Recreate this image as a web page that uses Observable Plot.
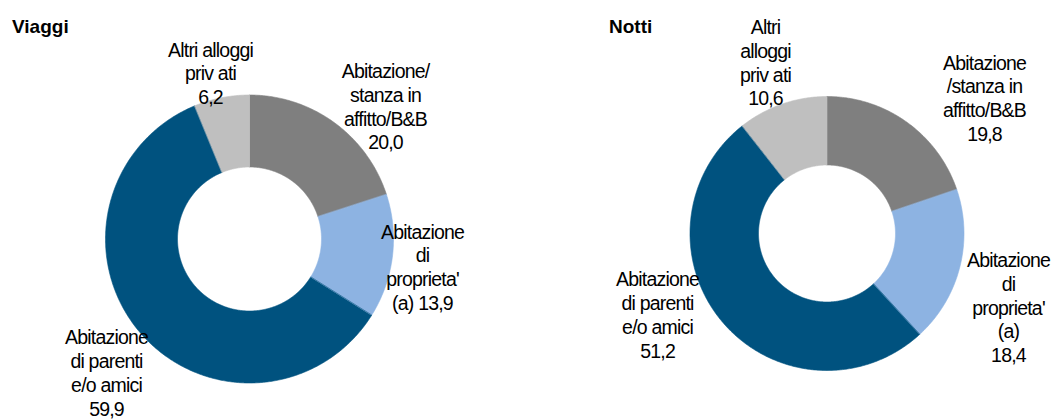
<!DOCTYPE html>
<html>
<head>
<meta charset="utf-8">
<script src="https://cdn.jsdelivr.net/npm/d3@7"></script>
<script src="https://cdn.jsdelivr.net/npm/@observablehq/plot@0.6"></script>
<style>
  html, body { margin: 0; padding: 0; background: #fff; }
  #wrap { position: relative; width: 1053px; height: 420px; display: flex; }
  .title { position: absolute; top: 17px; font: bold 19px "Liberation Sans", Arial, sans-serif; line-height: 19px; color: #000; }
  #wrap svg text { font-family: "Liberation Sans", Arial, sans-serif; letter-spacing: -0.8px; }
</style>
</head>
<body>
<div id="wrap">
  <div class="title" style="left:12px">Viaggi</div>
  <div class="title" style="left:609px">Notti</div>
</div>
<script>
// ---- data ----
const categories = [
  "Abitazione/stanza in affitto/B&B",
  "Abitazione di proprieta' (a)",
  "Abitazione di parenti e/o amici",
  "Altri alloggi privati"
];
const colors = ["#7f7f7f", "#8db3e2", "#00527f", "#bfbfbf"];
const viaggiValues = [20.0, 13.9, 59.9, 6.2];
const nottiValues = [19.8, 18.4, 51.2, 10.6];
const viaggiLabels = [
  "Abitazione/\nstanza in\naffitto/B&B\n",
  "Abitazione\ndi\nproprieta'\n(a) ",
  "Abitazione\ndi parenti\ne/o amici\n",
  "Altri alloggi\npriv ati\n"
];
const nottiLabels = [
  "Abitazione\n/stanza in\naffitto/B&B\n",
  "Abitazione\ndi\nproprieta'\n(a)\n",
  "Abitazione\ndi parenti\ne/o amici\n",
  "Altri\nalloggi\npriv ati\n"
];

const fmt = v => v.toFixed(1).replace(".", ",");
const INNER = 0.5;

function ring(values) {
  const total = d3.sum(values);
  let acc = 0;
  const pts = [], mids = [];
  values.forEach((v, i) => {
    const a0 = acc / total * 2 * Math.PI; acc += v;
    const a1 = acc / total * 2 * Math.PI;
    const n = Math.max(2, Math.ceil((a1 - a0) / (Math.PI / 360)));
    for (let k = 0; k <= n; k++) { const a = a0 + (a1 - a0) * k / n; pts.push({cat: categories[i], x: Math.sin(a), y: Math.cos(a)}); }
    for (let k = n; k >= 0; k--) { const a = a0 + (a1 - a0) * k / n; pts.push({cat: categories[i], x: INNER * Math.sin(a), y: INNER * Math.cos(a)}); }
    const m = (a0 + a1) / 2;
    mids.push({cat: categories[i], x: Math.sin(m), y: Math.cos(m)});
  });
  return {pts, mids};
}

function donut(values, labels, geom, nudges, width) {
  const {pts, mids} = ring(values);
  const {cx, cy, R} = geom;
  const textMarks = mids.map((d, i) => Plot.text([d], {
    x: "x", y: "y",
    text: () => labels[i] + fmt(values[i]),
    dx: nudges[i][0], dy: nudges[i][1],
    fontSize: 19.5, lineHeight: 1.22, fill: "#000",
    textAnchor: "middle", lineAnchor: "middle"
  }));
  return Plot.plot({
    width, height: 420,
    margin: 0,
    x: {domain: [-1, 1], range: [cx - R, cx + R], axis: null},
    y: {domain: [-1, 1], range: [cy + R, cy - R], axis: null},
    color: {domain: categories, range: colors},
    style: {fontFamily: "'Liberation Sans', Arial, sans-serif", fontSize: "19.5px", background: "#fff", overflow: "visible"},
    marks: [
      Plot.line(pts, {x: "x", y: "y", z: "cat", fill: "cat", stroke: "cat", strokeWidth: 0.6, curve: "linear-closed"}),
      ...textMarks
    ]
  });
}

const wrap = document.getElementById("wrap");
wrap.appendChild(donut(viaggiValues, viaggiLabels, {cx: 249, cy: 238.5, R: 144},
  [[51.4, -16.3], [30.1, 10], [-32.9, 40.4], [-11.1, -24.9]], 526));
wrap.appendChild(donut(nottiValues, nottiLabels, {cx: 300.5, cy: 233, R: 137},
  [[77.7, -24.4], [48.8, 39.4], [-65, -7.6], [-16.7, -42]], 527));
</script>
</body>
</html>
